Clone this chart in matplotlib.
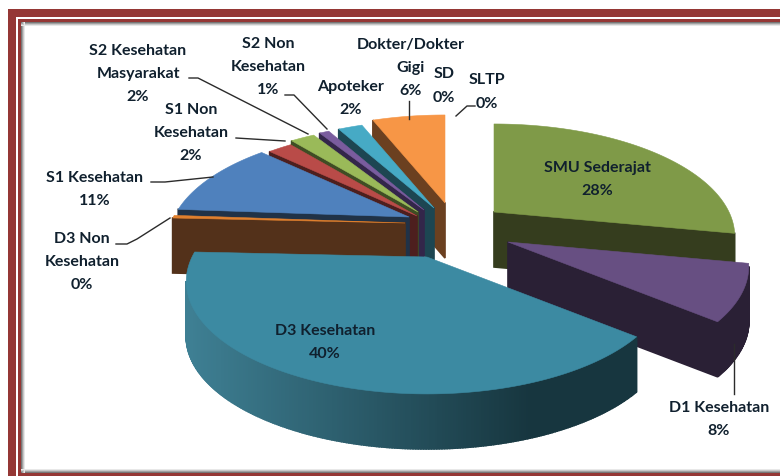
import numpy as np
import matplotlib
matplotlib.use("Agg")
import matplotlib.pyplot as plt
from matplotlib.colors import to_rgb
from matplotlib.patches import Rectangle

categories = ["SMU Sederajat", "D1 Kesehatan", "D3 Kesehatan", "D3 Non\nKesehatan",
              "S1 Kesehatan", "S1 Non\nKesehatan", "S2 Kesehatan\nMasyarakat",
              "S2 Non\nKesehatan", "Apoteker", "Dokter/Dokter\nGigi", "SD", "SLTP"]
values = [28.0, 8.0, 39.6, 0.4, 11.0, 2.0, 2.0, 0.8, 2.0, 6.0, 0.0, 0.0]
percent_labels = ["28%", "8%", "40%", "0%", "11%", "2%", "2%", "1%", "2%", "6%", "0%", "0%"]

top_colors = ["#7f9a48", "#674f82", "#3c8aa2", "#e0802e", "#4f81bd", "#b94b48",
              "#9aba59", "#7a5c9e", "#46aac5", "#f79646", "#cccccc", "#cccccc"]
side_colors = ["#353d1e", "#2a2035", "#1c3d48", "#53311a", "#203247", "#4d1f1e",
               "#3f4d24", "#33264a", "#1d4652", "#6b4020", "#888888", "#888888"]

# where each exploded slice has its point, in pixels
tips = [(494, 213), (508, 243), (427, 258), (405, 224), (409, 218), (417, 217),
        (418, 213), (424, 211), (434, 209), (445, 204), (450, 200), (450, 200)]
draw_order = [9, 8, 7, 6, 5, 4, 3, 0, 1, 2]

label_pos = [(597, 180), (719, 420), (325, 343), (82, 262), (95, 190), (191, 133),
             (138, 74), (268, 67), (351, 98), (411, 68), (444, 86), (487, 92)]
LINE_STEP = 23

leaders = [[(189, 79), (198, 79), (308, 135)],
           [(285, 96), (294, 96), (327, 130)],
           [(236, 139), (285, 142)],
           [(151, 183), (165, 183), (213, 178)],
           [(116, 245), (127, 245), (137, 240), (170, 219)],
           [(409, 102), (409, 120)],
           [(475, 107), (467, 107), (456, 117)],
           [(734, 345), (734, 395)]]

RADIUS = 235
DEPTH = 55
PERSP = 4.6
TILT = 0.456
MAROON = "#953735"


def project(angle, tip):
    # angle in degrees clockwise from the top of the pie
    a = np.radians(angle)
    x = np.sin(a)
    y = np.cos(a)
    f = PERSP / (PERSP + y)
    return np.column_stack([tip[0] + RADIUS * x * f, tip[1] - RADIUS * TILT * y * f])


def wall(ax, p, q, color):
    ax.fill([p[0], q[0], q[0], p[0]], [p[1], q[1], q[1] + DEPTH, p[1] + DEPTH],
            color=color, lw=1.2, zorder=3)


fig = plt.figure(figsize=(7.8, 4.77), dpi=100)
ax = fig.add_axes([0, 0, 1, 1])
ax.set_xlim(0, 780)
ax.set_ylim(477, 0)
ax.axis("off")

# frame
ax.add_patch(Rectangle((8, 10), 8, 467, color=MAROON, lw=0))
ax.add_patch(Rectangle((8, 10), 772, 8, color=MAROON, lw=0))
ax.add_patch(Rectangle((18, 20), 3, 457, color=MAROON, lw=0))
ax.add_patch(Rectangle((18, 20), 762, 3, color=MAROON, lw=0))
ax.add_patch(Rectangle((18, 474), 762, 3, color=MAROON, lw=0))
for i, g in enumerate(["#777777", "#a0a0a0", "#c8c8c8", "#e8e8e8"]):
    ax.add_patch(Rectangle((21 + i, 23), 1, 451, color=g, lw=0))
    ax.add_patch(Rectangle((21, 23 + i), 759, 1, color=g, lw=0))
    ax.add_patch(Rectangle((21, 473 - i), 759, 1, color=g, lw=0))

edges = np.cumsum([0] + values) / sum(values) * 360
teal_light = np.array(to_rgb("#3e7f93"))
teal_dark = np.array(to_rgb("#17363f"))

for i in draw_order:
    tip = tips[i]
    angles = np.linspace(edges[i], edges[i + 1], max(int(edges[i + 1] - edges[i]) * 2, 2) + 1)
    arc = project(angles, tip)
    # walls facing the viewer: going clockwise round the slice they run right to left
    if arc[0][0] < tip[0]:
        wall(ax, tip, arc[0], side_colors[i])
    if tip[0] < arc[-1][0]:
        wall(ax, arc[-1], tip, side_colors[i])
    for p, q in zip(arc[:-1], arc[1:]):
        if q[0] < p[0]:
            color = side_colors[i]
            if i == 2:
                t = np.clip((p[0] - 190) / 340, 0, 1)
                color = teal_light + (teal_dark - teal_light) * t
            wall(ax, p, q, color)
    outline = np.vstack([[tip], arc])
    ax.fill(outline[:, 0], outline[:, 1], color=top_colors[i], lw=0.4, zorder=3)

for line in leaders:
    xs, ys = zip(*line)
    ax.plot(xs, ys, color="#2b2b2b", lw=1.0, zorder=4)

for name, pct, pos in zip(categories, percent_labels, label_pos):
    rows = name.split("\n") + [pct]
    for k, row in enumerate(rows):
        ax.text(pos[0], pos[1] + (k - (len(rows) - 1) / 2) * LINE_STEP, row, ha="center", va="center",
                family="Lato", fontweight="bold", fontsize=11.5, color="#10202e", zorder=5)

fig.savefig("out.png", dpi=100)
